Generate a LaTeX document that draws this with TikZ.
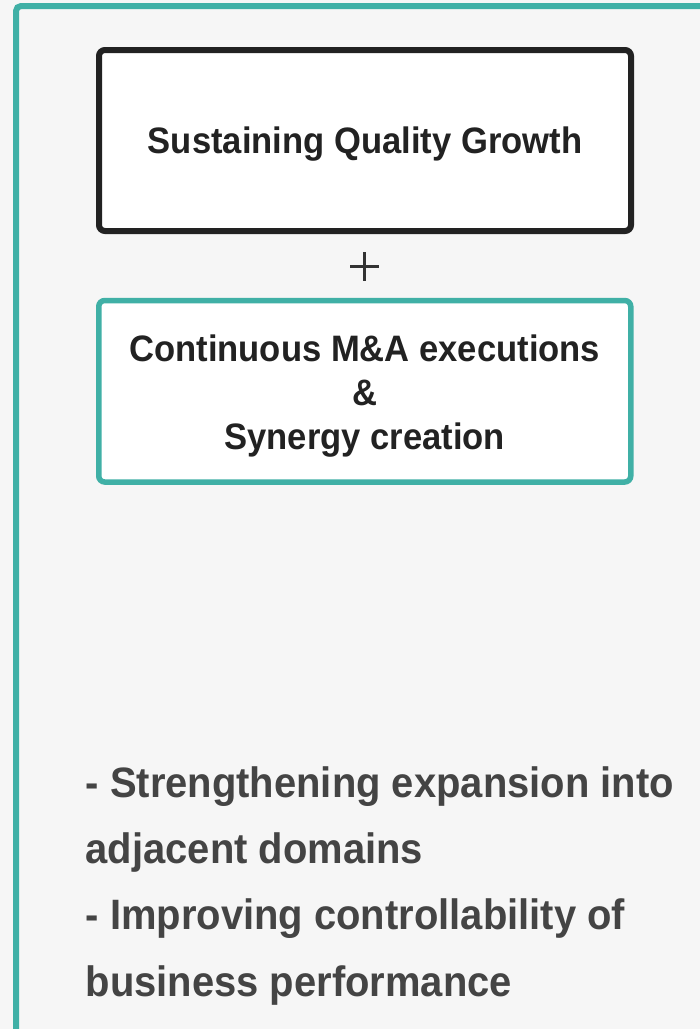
\documentclass[tikz,border=0pt]{standalone}
\usepackage{fontspec}
\setmainfont[FakeStretch=0.94]{Liberation Sans}

\definecolor{pagebg}{HTML}{F6F6F6}
\definecolor{tealline}{HTML}{40B0A6}
\definecolor{boxink}{HTML}{222222}
\definecolor{noteink}{HTML}{444444}
\definecolor{plusink}{HTML}{333333}

\tikzset{
  framepanel/.style={draw=tealline, line width=6pt, rounded corners=5pt},
  goalbox/.style={draw=boxink, fill=white, line width=6pt, rounded corners=6pt,
    minimum width=532pt, minimum height=181pt, inner sep=0pt,
    text=boxink, font=\fontsize{36.8}{44}\selectfont\bfseries},
  mabox/.style={draw=tealline, fill=white, line width=5.5pt, rounded corners=6pt,
    minimum width=532pt, minimum height=181.5pt, inner sep=0pt,
    text=boxink, font=\fontsize{36.8}{44}\selectfont\bfseries, align=center},
  plusmark/.style={draw=plusink, line width=3pt},
  notes/.style={inner sep=0pt, anchor=north west, align=left,
    text=noteink, font=\fontsize{42.5}{66.3}\selectfont\bfseries},
}

\begin{document}
\begin{tikzpicture}[x=1pt, y=-1pt]
  % page background and fixed size
  \fill[pagebg] (0,0) rectangle (700,1029);
  \useasboundingbox (0,0) rectangle (700,1029);

  % teal panel edge along the left and top
  \draw[framepanel] (16,1040) -- (16,6) -- (710,6);

  % the two stacked boxes
  \node[goalbox, text height=25pt, text depth=0pt] (growth) at (365,140.5) {Sustaining Quality Growth};
  \coordinate (plus) at (364.5,266.5);
  \draw[plusmark] (plus) +(-14.5,0) -- +(14.5,0) (plus) +(0,-14.5) -- +(0,14.5);
  \node[mabox] (mna) at (364.75,391.25)
    {\rule{0pt}{35.6pt}Continuous M\&A executions\\\&\\Synergy creation};

  % bullet notes
  \node[notes] (notes) at (85.5,766.1)
    {- Strengthening expansion into\\adjacent domains\\- Improving controllability of\\business performance};
\end{tikzpicture}
\end{document}
